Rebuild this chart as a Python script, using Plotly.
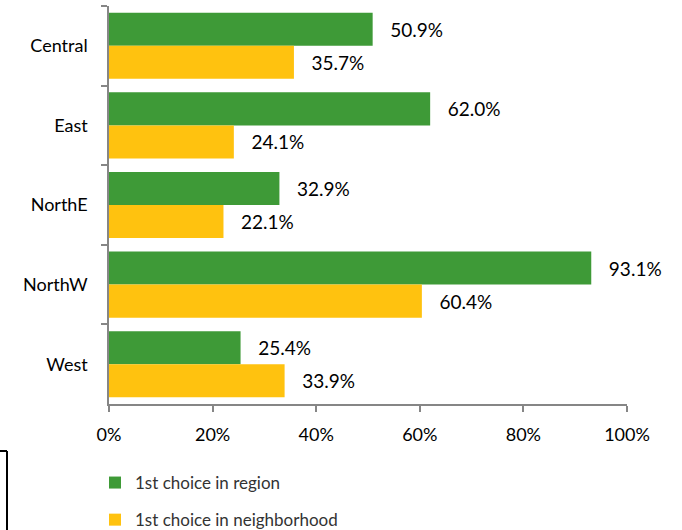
import plotly.graph_objects as go

categories = ["Central", "East", "NorthE", "NorthW", "West"]
region = [50.9, 62.0, 32.9, 93.1, 25.4]
neighborhood = [35.7, 24.1, 22.1, 60.4, 33.9]
series_names = ["1st choice in region", "1st choice in neighborhood"]
tick_vals = [0, 20, 40, 60, 80, 100]
tick_text = ["0%", "20%", "40%", "60%", "80%", "100%"]

GREEN = "#3E9A37"
YELLOW = "#FFC20F"
FONT = "Lato, 'Open Sans', sans-serif"

W, H = 682, 530
ML, MR, MT, MB = 109, 55, 6, 126
PW = W - ML - MR
PH = H - MT - MB

def px_x(p):
    return (p - ML) / PW

def px_y(p):
    return (H - MB - p) / PH

fig = go.Figure()
for name, vals, col, grp in [(series_names[0], region, GREEN, "a"),
                             (series_names[1], neighborhood, YELLOW, "b")]:
    fig.add_trace(go.Bar(
        y=categories, x=vals, name=name, orientation="h",
        marker=dict(color=col, line=dict(width=0)),
        text=[f"   {v:.1f}%" for v in vals],
        textposition="outside", cliponaxis=False,
        textfont=dict(family=FONT, size=19, color="#000000"),
        legendgroup=grp,
    ))

fig.update_layout(
    width=W, height=H,
    margin=dict(l=ML, r=MR, t=MT, b=MB, autoexpand=False),
    paper_bgcolor="white", plot_bgcolor="white",
    barmode="group", bargap=0.17, bargroupgap=0,
    font=dict(family=FONT, size=18, color="#000000"),
    showlegend=True,
    legend=dict(
        x=px_x(95), y=px_y(465), xanchor="left", yanchor="top",
        orientation="v", traceorder="grouped", tracegroupgap=12,
        font=dict(family=FONT, size=17, color="#333333"),
        bgcolor="rgba(0,0,0,0)",
    ),
    xaxis=dict(
        range=[0, 100], tickmode="array", tickvals=tick_vals, ticktext=tick_text,
        showgrid=False, zeroline=False,
        showline=True, linecolor="#868686", linewidth=1.5,
        ticks="outside", ticklen=6, tickcolor="#868686", tickwidth=1.5,
        tickfont=dict(family=FONT, size=18, color="#000000"),
        ticklabelstandoff=8, automargin=False,
    ),
    yaxis=dict(
        autorange="reversed", type="category",
        showgrid=False, zeroline=False,
        showline=True, linecolor="#868686", linewidth=1.5,
        ticks="outside", tickson="boundaries", ticklen=6,
        tickcolor="#868686", tickwidth=1.5,
        tickfont=dict(family=FONT, size=18, color="#000000"),
        ticklabelstandoff=16, automargin=False,
    ),
    shapes=[
        dict(type="line", xref="paper", yref="paper",
             x0=px_x(7), x1=px_x(7), y0=px_y(451), y1=px_y(535),
             line=dict(color="black", width=2)),
        dict(type="line", xref="paper", yref="paper",
             x0=px_x(-5), x1=px_x(7), y0=px_y(451), y1=px_y(451),
             line=dict(color="black", width=2)),
    ],
)

fig.write_html("out.html", config={"displayModeBar": False},
               post_script="document.body.style.margin='0';")
